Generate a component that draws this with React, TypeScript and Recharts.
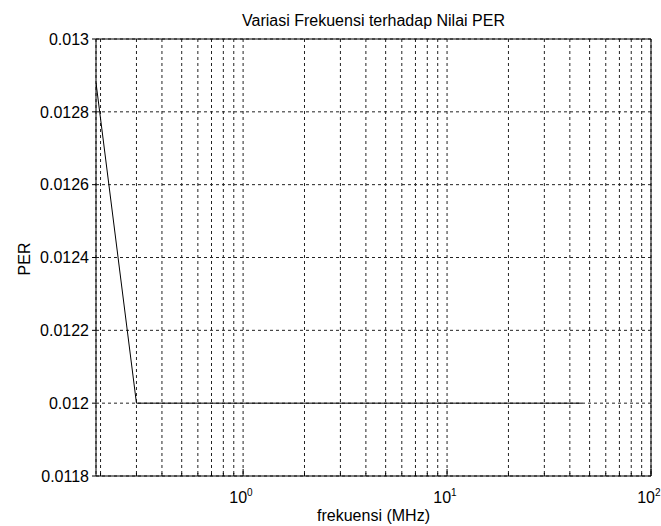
import React from "react"
import {
  LineChart,
  Line,
  XAxis,
  YAxis,
  CartesianGrid,
  ReferenceLine,
} from "recharts"

// frekuensi (MHz) vs PER
const freqMHz = [0.19, 0.3, 46]
const perValues = [0.01288, 0.012, 0.012]

const xDomain = [0.19, 100]
const xTicks = [
  0.2, 0.3, 0.4, 0.5, 0.6, 0.7, 0.8, 0.9,
  1, 2, 3, 4, 5, 6, 7, 8, 9,
  10, 20, 30, 40, 50, 60, 70, 80, 90,
  100,
]
const yTicks = [0.0118, 0.012, 0.0122, 0.0124, 0.0126, 0.0128, 0.013]

const data = freqMHz.map((f, i) => ({ f, per: perValues[i] }))

const font = '"Liberation Sans", Arial, sans-serif'

function LogTick(props: any) {
  const { x, y, payload } = props
  const v = payload.value
  const e = Math.round(Math.log10(v))
  const major = Math.abs(Math.pow(10, e) - v) < 1e-9
  if (!major) {
    return <line x1={x} y1={y} x2={x} y2={y - 3} stroke="#000" />
  }
  return (
    <g>
      <line x1={x} y1={y} x2={x} y2={y - 7} stroke="#000" />
      <text x={x + 4} y={y + 27} textAnchor="end" fontSize={16} fontFamily={font} fill="#000">
        10
      </text>
      <text x={x + 4} y={y + 20} textAnchor="start" fontSize={10} fontFamily={font} fill="#000">
        {e}
      </text>
    </g>
  )
}

export default function App() {
  return (
    <div style={{ position: "absolute", left: 0, top: 0, width: 661, height: 526, background: "#fff", fontFamily: font }}>
      <LineChart width={661} height={526} data={data} margin={{ top: 39, right: 10, left: 0, bottom: 0 }}>
        <CartesianGrid stroke="#222" strokeDasharray="3 3" />
        <XAxis
          dataKey="f"
          type="number"
          scale="log"
          domain={xDomain}
          ticks={xTicks}
          allowDataOverflow
          interval={0}
          height={50}
          tickSize={0}
          tickMargin={0}
          tickLine={false}
          axisLine={{ stroke: "#000" }}
          tick={<LogTick />}
        />
        <YAxis
          type="number"
          domain={[0.0118, 0.013]}
          ticks={yTicks}
          allowDataOverflow
          interval={0}
          width={96}
          tickSize={4}
          tickMargin={3}
          axisLine={{ stroke: "#000" }}
          tickLine={{ stroke: "#000" }}
          tick={{ fontSize: 16, fontFamily: font, fill: "#000" }}
          tickFormatter={(v: number) => String(Number(v.toFixed(4)))}
        />
        <ReferenceLine x={100} stroke="#000" />
        <ReferenceLine y={0.013} stroke="#000" />
        <Line dataKey="per" stroke="#000" strokeWidth={1} dot={false} type="linear" isAnimationActive={false} />
      </LineChart>
      <div style={{ position: "absolute", left: 96, width: 555, top: 13, lineHeight: "16px", fontSize: 16, textAlign: "center", color: "#000" }}>
        Variasi Frekuensi terhadap Nilai PER
      </div>
      <div style={{ position: "absolute", left: 96, width: 555, top: 508, lineHeight: "16px", fontSize: 16, textAlign: "center", color: "#000" }}>
        frekuensi (MHz)
      </div>
      <div style={{ position: "absolute", left: 25, top: 259, lineHeight: "16px", fontSize: 16, color: "#000", transform: "translate(-50%, -50%) rotate(-90deg)", whiteSpace: "nowrap" }}>
        PER
      </div>
    </div>
  )
}
